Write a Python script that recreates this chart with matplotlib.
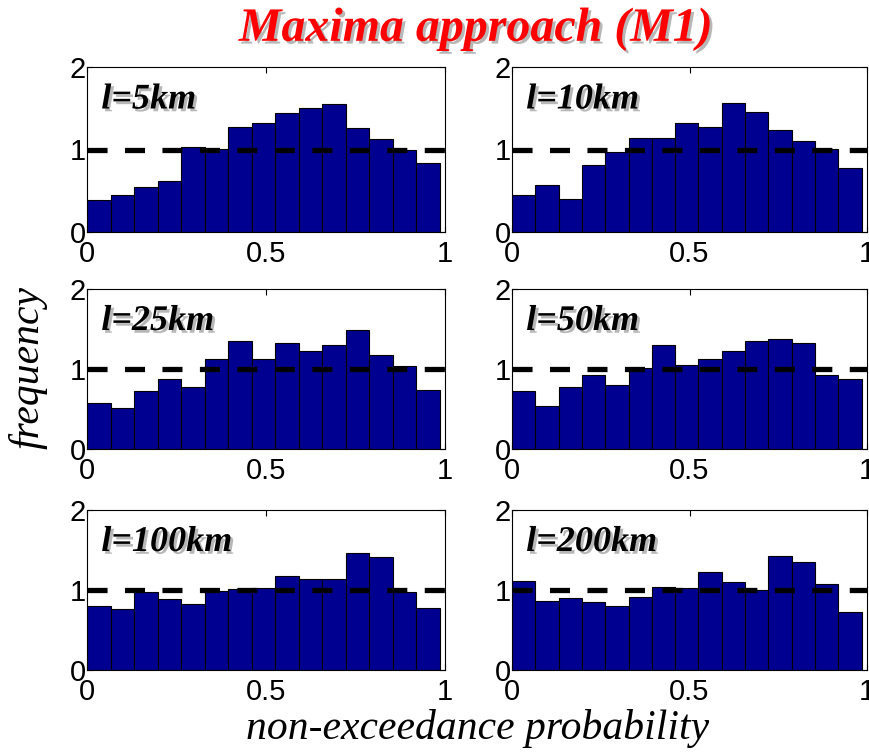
import numpy as np
import matplotlib.pyplot as plt
import matplotlib.patheffects as pe

# Histogram of non-exceedance probabilities, 15 bins per scale
scales = ["l=5km", "l=10km", "l=25km", "l=50km", "l=100km", "l=200km"]

freq_5km = [0.39, 0.45, 0.55, 0.62, 1.03, 1.01, 1.27, 1.32, 1.44, 1.50, 1.55, 1.26, 1.13, 1.00, 0.84]
freq_10km = [0.45, 0.57, 0.40, 0.81, 0.97, 1.14, 1.14, 1.32, 1.27, 1.56, 1.46, 1.24, 1.10, 1.01, 0.77]
freq_25km = [0.58, 0.51, 0.72, 0.87, 0.78, 1.13, 1.35, 1.13, 1.33, 1.23, 1.30, 1.49, 1.18, 1.04, 0.74]
freq_50km = [0.73, 0.54, 0.78, 0.93, 0.80, 1.01, 1.30, 1.05, 1.13, 1.23, 1.35, 1.38, 1.33, 0.92, 0.88]
freq_100km = [0.80, 0.76, 0.97, 0.89, 0.82, 0.99, 1.01, 1.02, 1.17, 1.14, 1.14, 1.46, 1.41, 0.97, 0.78]
freq_200km = [1.11, 0.86, 0.90, 0.85, 0.80, 0.91, 1.04, 1.02, 1.22, 1.10, 1.00, 1.42, 1.35, 1.07, 0.73]

all_freqs = [freq_5km, freq_10km, freq_25km, freq_50km, freq_100km, freq_200km]

n_bins = 15
p_max = 0.985
edges = np.linspace(0, p_max, n_bins + 1)

plt.rcParams['font.family'] = 'Liberation Sans'

fig = plt.figure(figsize=(8.7, 7.54), dpi=100)
W, H = 870.0, 754.0

# axes boxes in pixels: (left, right, top, bottom)
cols = [(87, 445), (512, 867)]
rows = [(67, 232), (289, 449), (510, 670)]

shadow = [pe.SimplePatchShadow(offset=(2, -2), shadow_rgbFace='0.6', alpha=0.7), pe.Normal()]

for i, (label, freq) in enumerate(zip(scales, all_freqs)):
    r, c = divmod(i, 2)
    x0, x1 = cols[c]
    y0, y1 = rows[r]
    ax = fig.add_axes([x0 / W, 1 - y1 / H, (x1 - x0) / W, (y1 - y0) / H])

    ax.bar(edges[:-1], freq, width=np.diff(edges), align='edge',
           color='#000090', edgecolor='black', linewidth=0.8, zorder=2)
    ax.plot([0, 1], [1, 1], color='black', linewidth=3.8,
            dashes=(3.8, 3.3), zorder=3)

    ax.set_xlim(0, 1)
    ax.set_ylim(0, 2)
    ax.set_xticks([0, 0.5, 1])
    ax.set_xticklabels(['0', '0.5', '1'])
    ax.set_yticks([0, 1, 2])
    ax.tick_params(direction='in', length=4, width=0.8, labelsize=21,
                   top=True, right=True, pad=1)
    ax.tick_params(axis='x', pad=6)
    for s in ax.spines.values():
        s.set_linewidth(0.8)

    ax.text(0.04, 0.9, label, transform=ax.transAxes, ha='left', va='top',
            fontsize=26, fontweight='bold', fontstyle='italic',
            family='Liberation Serif', path_effects=shadow, zorder=4)

fig.text(476 / W, 1 - 29 / H, "Maxima approach (M1)", ha='center', va='center',
         fontsize=34.5, fontweight='bold', fontstyle='italic', color='red',
         family='Liberation Serif', path_effects=shadow)
fig.text(28 / W, 1 - 368 / H, "frequency", ha='center', va='center', rotation=90,
         fontsize=30, fontstyle='italic', family='Liberation Serif')
fig.text(478 / W, 1 - 729 / H, "non-exceedance probability", ha='center', va='center',
         fontsize=30, fontstyle='italic', family='Liberation Serif')

fig.savefig("out.png", dpi=100)
